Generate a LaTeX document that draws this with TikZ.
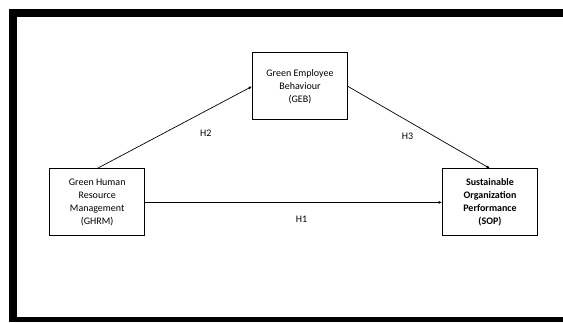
\documentclass[tikz,border=0pt]{standalone}
\usepackage{fontspec}
\setmainfont{Carlito}
\usetikzlibrary{arrows.meta}
\tikzset{
  varbox/.style={draw, line width=0.9pt, minimum width=95pt, minimum height=67pt, align=center, font=\fontsize{10}{13}\selectfont, inner sep=2pt},
  path/.style={-{Latex[length=3.5pt,width=3pt]}, line width=0.7pt},
  hyp/.style={font=\fontsize{10}{12}\selectfont}
}
\begin{document}
\begin{tikzpicture}[x=1pt, y=-1pt]
\useasboundingbox (0,0) rectangle (563,322);
\fill[white] (0,0) rectangle (563,322);
% frame, cut off at the right and bottom
\fill (9,9) rectangle (563,17);
\fill (9,9) rectangle (17,322);
\fill (9,317) rectangle (563,322);
\node[varbox] (ghrm) at (97.2,202.4) {Green Human\\Resource\\Management\\(GHRM)};
\node[varbox] (geb) at (300,86.4) {Green Employee\\Behaviour\\(GEB)};
\node[varbox, font=\fontsize{10}{13}\selectfont\bfseries] (sop) at (490,202.4) {Sustainable\\Organization\\Performance\\(SOP)};
\draw[path] (ghrm.north) -- (geb.west);
\draw[path] (geb.east) -- (sop.north);
\draw[path] (ghrm.east) -- (sop.west);
\node[hyp] (h2) at (205.7,133) {H2};
\node[hyp] (h3) at (407.5,136.4) {H3};
\node[hyp] (h1) at (301.6,219) {H1};
\end{tikzpicture}
\end{document}
